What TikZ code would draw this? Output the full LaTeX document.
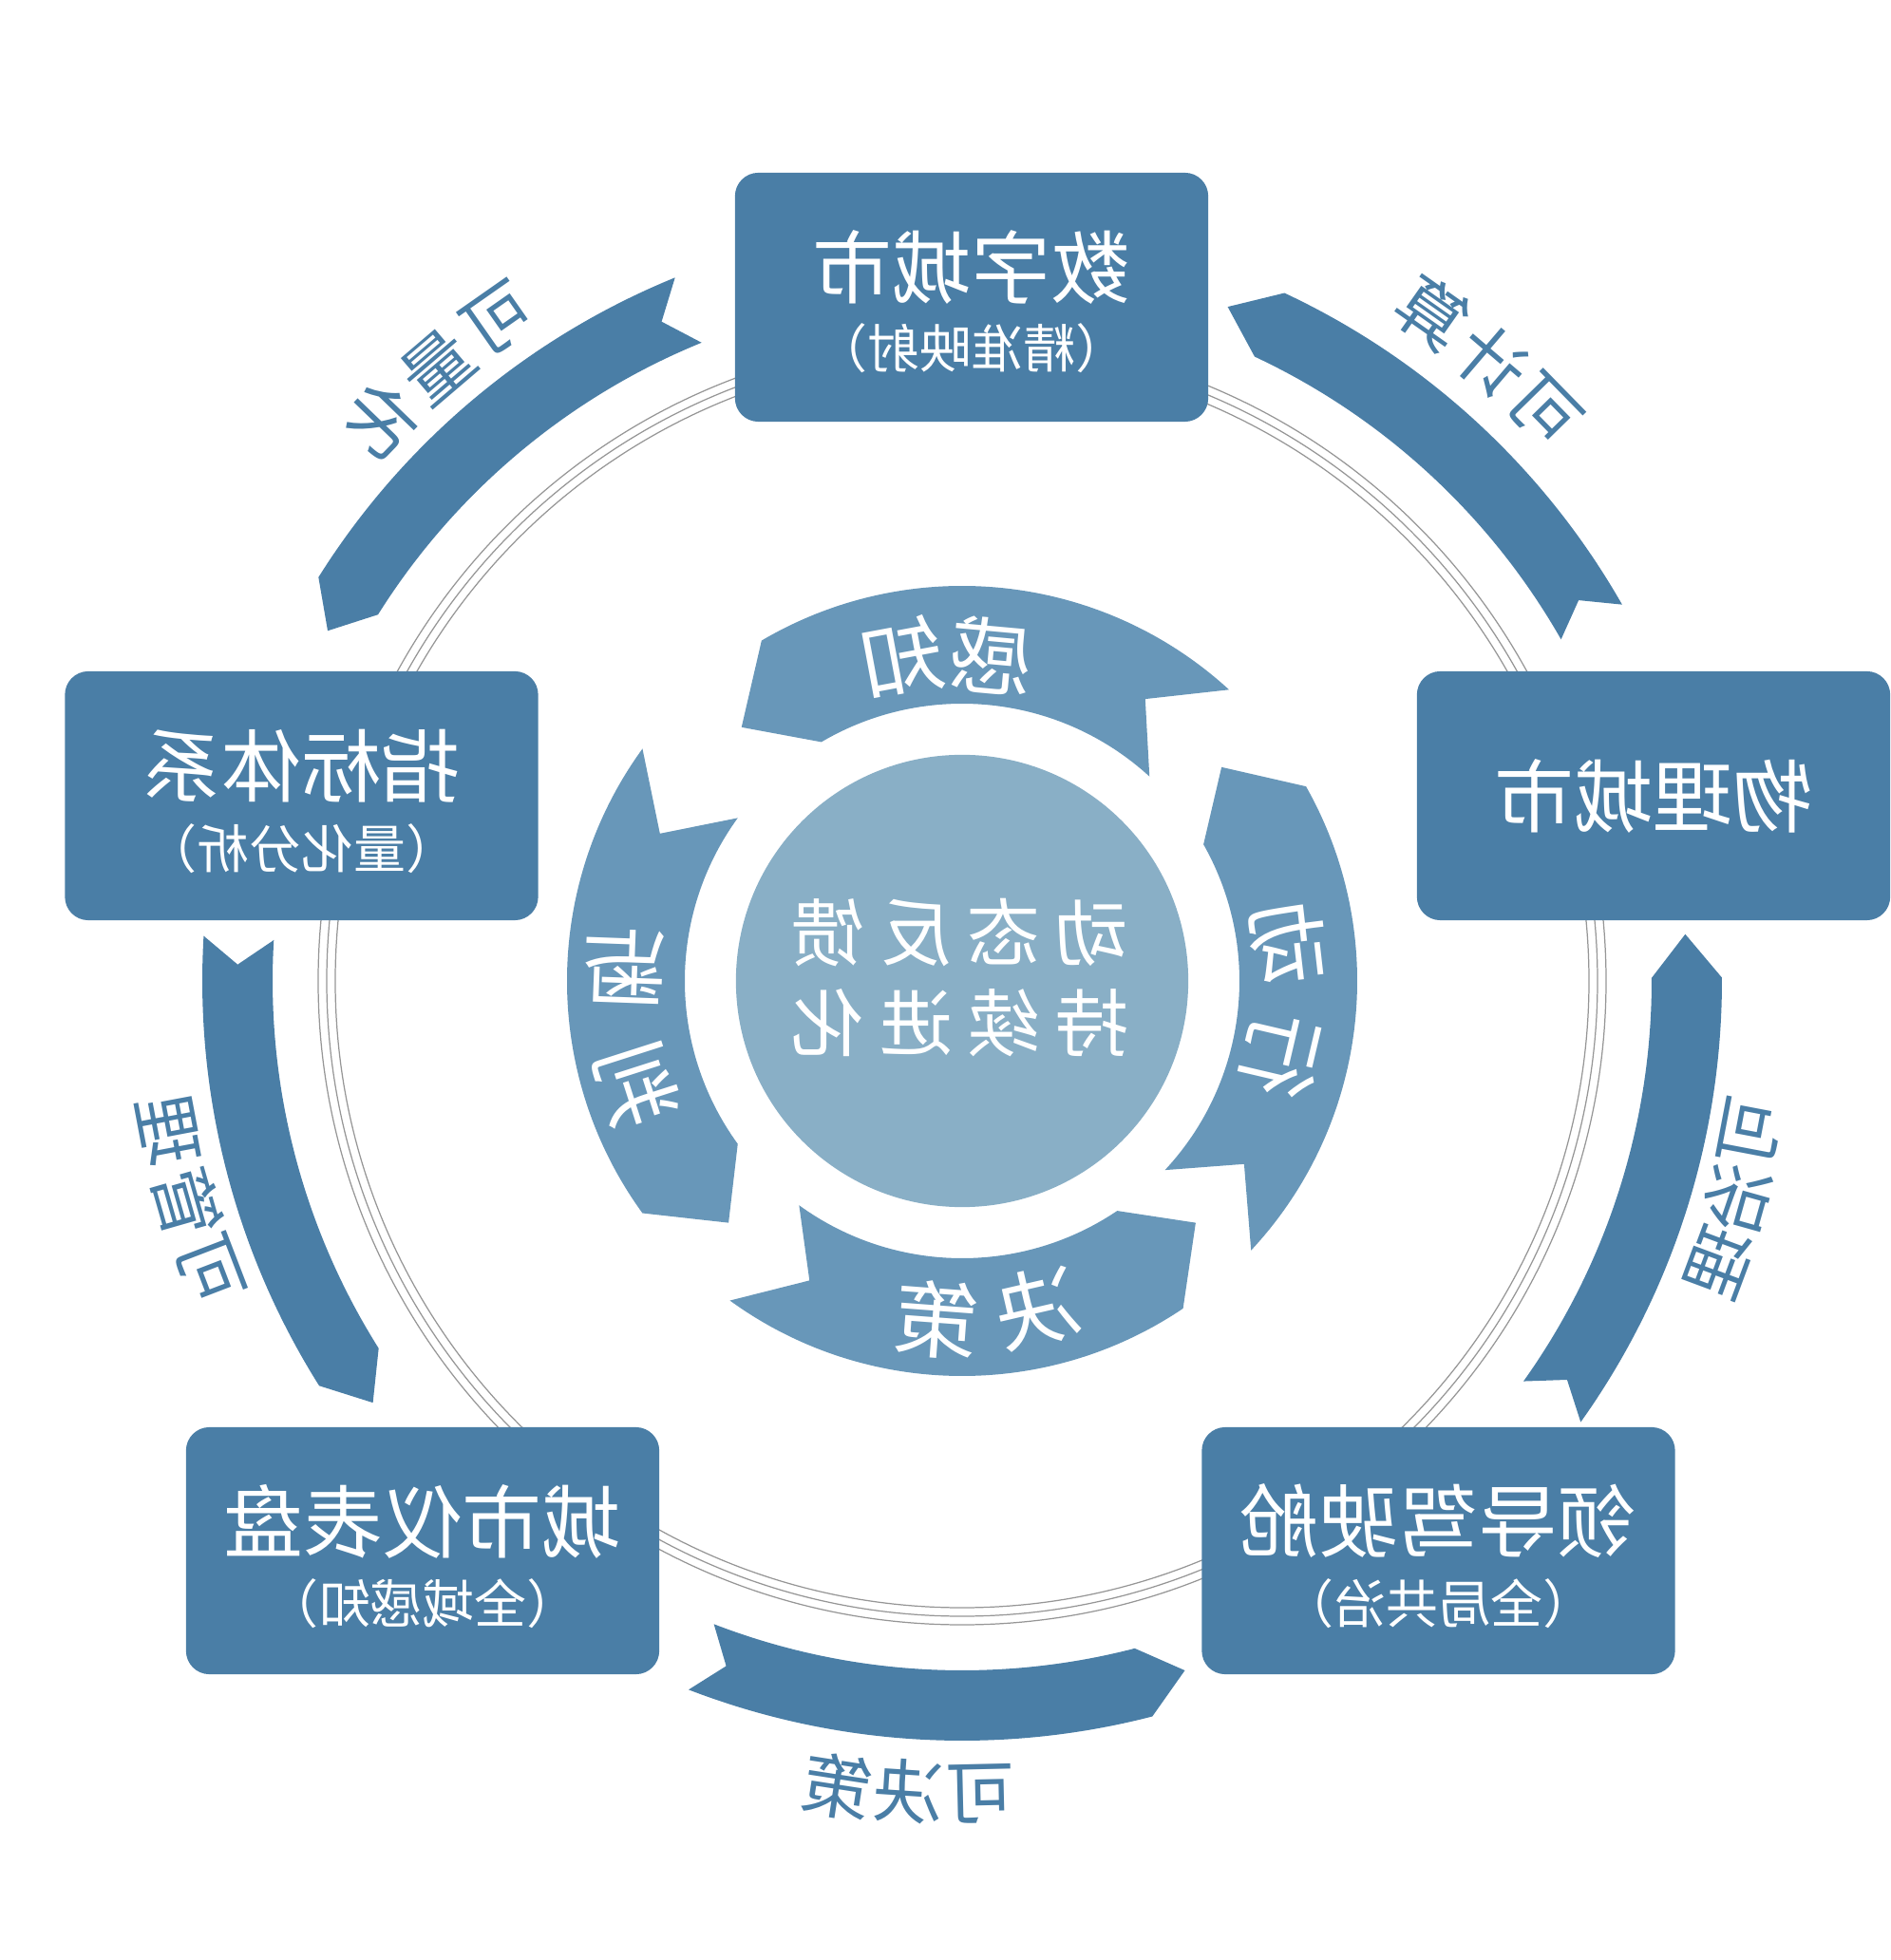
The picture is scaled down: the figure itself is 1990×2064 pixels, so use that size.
\documentclass[tikz,border=0pt]{standalone}
\usepackage{fontspec}
\newfontfamily\cjk{Noto Sans CJK SC}
\usetikzlibrary{calc}
\definecolor{outerblue}{RGB}{74,126,166}
\definecolor{innerblue}{RGB}{104,151,185}
\definecolor{corecol}{RGB}{137,175,198}
\definecolor{ringgray}{RGB}{150,150,150}
% color, inner r, outer r, tail angle, head angle, notch depth, tip length
\newcommand\ribbon[7]{%
  \fill[#1] (#4:#3) arc[start angle=#4, end angle=#5, radius=#3]
    -- ({#5+#7}:{(#2+#3)/2}) -- (#5:#2)
    arc[start angle=#5, end angle=#4, radius=#2]
    -- ({#4+#6}:{(#2+#3)/2}) -- cycle;}
% style, angle, radius, rotation, char, name
\newcommand\lab[6]{\node[#1, rotate=#4, xscale=-1] (#6) at (#2:#3) {#5};}
\begin{document}
\begin{tikzpicture}[x=0.01cm, y=0.01cm,
  box/.style={fill=outerblue, rounded corners=7pt, inner sep=0pt, minimum width=4.98cm, minimum height=2.62cm},
  title/.style={text=white, font=\cjk\fontsize{23.8}{28}\selectfont, inner sep=0pt, xscale=-1},
  subtitle/.style={text=white, font=\cjk\fontsize{15.6}{19}\selectfont, inner sep=0pt, xscale=-1},
  olab/.style={text=outerblue, font=\cjk\fontsize{20.8}{24}\selectfont, inner sep=0pt},
  ilab/.style={text=white, font=\cjk\fontsize{25}{29}\selectfont, inner sep=0pt},
  ctext/.style={text=white, font=\cjk\fontsize{22}{26}\selectfont, inner sep=0pt, xscale=-1},
  ring/.style={draw=ringgray, line width=0.35pt}]
\useasboundingbox (-1013,-1031) rectangle (977,1033);
% thin rings
\foreach \r in {660,669,678} \draw[ring] (0,0) circle[radius=\r];
% boxes
\node[box] (digital) at (10,720) {};
\node[box] (physical) at (728,195) {};
\node[box] (index) at (-695.5,195) {};
\node[box, minimum height=2.60cm] (dashboard) at (-568,-600) {};
\node[box, minimum height=2.60cm] (cockpit) at (501.5,-600) {};
\node[title] (digitalT) at ($(digital.center)+(0,31)$) {数字城市};
\node[subtitle] (digitalS) at ($(digital.center)+(0,-54)$) {（精准映射）};
\node[title] (physicalT) at (physical.center) {物理城市};
\node[title] (indexT) at ($(index.center)+(0,31)$) {指标体系};
\node[subtitle] (indexS) at ($(index.center)+(0,-56)$) {（量化分析）};
\node[title] (dashT) at ($(dashboard.center)+(0,31)$) {城市仪表盘};
\node[subtitle] (dashS) at ($(dashboard.center)+(0,-56)$) {（全域感知）};
\node[title] (cockT) at ($(cockpit.center)+(0,31)$) {领导驾驶舱};
\node[subtitle] (cockS) at ($(cockpit.center)+(0,-56)$) {（全局共治）};
% outer ribbons
\ribbon{outerblue}{726}{800}{324.5}{360.25}{2.1}{3.45}
\ribbon{outerblue}{726}{800}{29.7}{64.9}{2.0}{3.6}
\ribbon{outerblue}{726}{800}{112.2}{147.9}{2.3}{3.2}
\ribbon{outerblue}{726}{800}{176.6}{212.2}{2.1}{3.4}
\ribbon{outerblue}{726}{800}{248.9}{284.5}{2.1}{3.4}
% outer labels
\lab{olab}{125}{851}{35}{可}{q1}
\lab{olab}{130.5}{851}{40.5}{量}{q2}
\lab{olab}{136}{851}{46}{化}{q3}
\lab{olab}{44.4}{858}{-45.6}{可}{c1}
\lab{olab}{49.5}{858}{-40.5}{计}{c2}
\lab{olab}{54.9}{860}{-35.1}{算}{c3}
\lab{olab}{201}{848}{291}{可}{g1}
\lab{olab}{196}{849}{286}{管}{g2}
\lab{olab}{190.7}{850}{280.7}{理}{g3}
\lab{olab}{-10.8}{845}{79.2}{可}{z1}
\lab{olab}{-15.7}{848}{74.3}{治}{z2}
\lab{olab}{-20.4}{850}{69.6}{理}{z3}
\lab{olab}{271.3}{856}{361.3}{可}{j1}
\lab{olab}{266.2}{855}{356.2}{决}{j2}
\lab{olab}{261.2}{858}{351.2}{策}{j3}
% inner ribbons
\ribbon{innerblue}{292}{416}{-43}{29.5}{10}{10}
\ribbon{innerblue}{292}{416}{47.5}{120.5}{9.5}{10.5}
\ribbon{innerblue}{292}{416}{144}{216}{10}{10}
\ribbon{innerblue}{292}{416}{234}{304}{9}{10}
% inner labels
\lab{ilab}{-13.2}{345}{-103.2}{行}{x1}
\lab{ilab}{6.5}{345}{-83.5}{动}{x2}
\lab{ilab}{84.8}{344}{-5.2}{感}{s1}
\lab{ilab}{100.6}{346}{10.6}{知}{s2}
\lab{ilab}{197.8}{360}{287.8}{判}{p1}
\lab{ilab}{177.9}{356}{267.9}{断}{p2}
\lab{ilab}{283}{353}{373}{决}{d1}
\lab{ilab}{265.7}{358}{355.7}{策}{d2}
% core
\node[circle, fill=corecol, minimum size=4.76cm, inner sep=0pt] (core) at (0,0) {};
\node[ctext] (coreA) at (-2,51) {动\hspace{4.3pt}态\hspace{4.3pt}反\hspace{4.3pt}馈};
\node[ctext] (coreB) at (-2,-44) {持\hspace{4.3pt}续\hspace{4.3pt}进\hspace{4.3pt}化};
\end{tikzpicture}
\end{document}
